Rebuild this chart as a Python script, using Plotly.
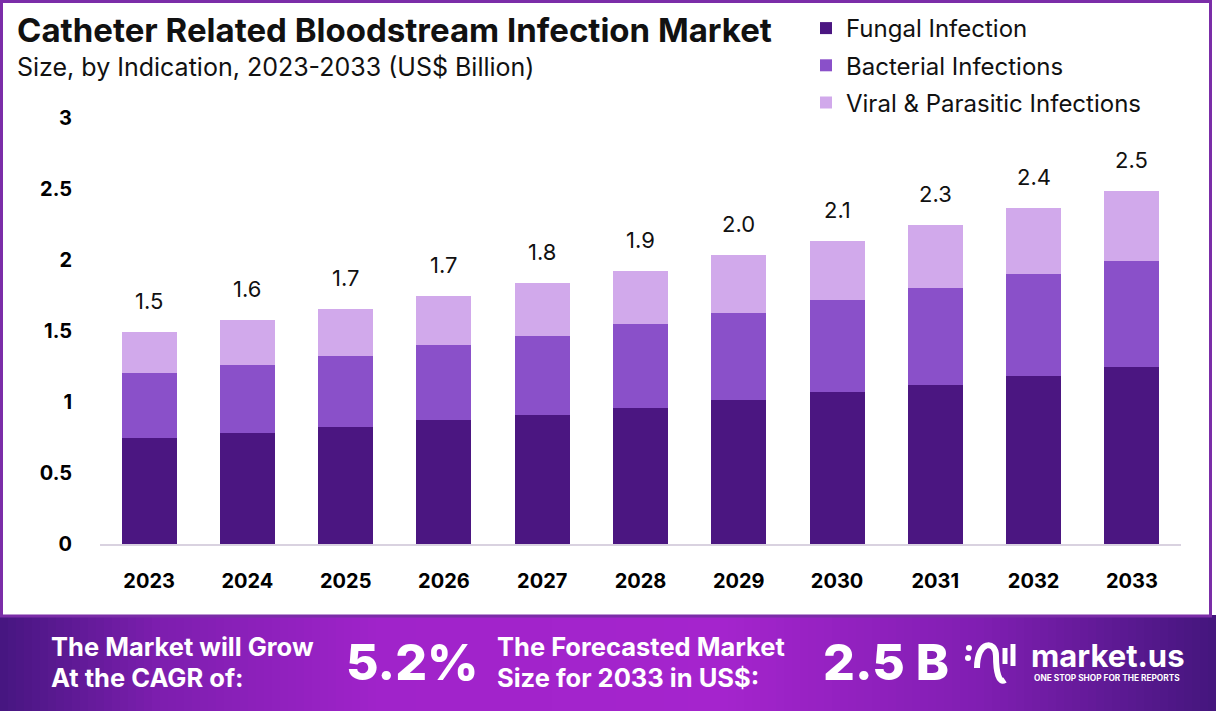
import plotly.graph_objects as go

years = ["2023", "2024", "2025", "2026", "2027", "2028", "2029", "2030", "2031", "2032", "2033"]
fungal = [0.743, 0.785, 0.827, 0.870, 0.912, 0.961, 1.011, 1.067, 1.123, 1.180, 1.243]
bacterial = [0.458, 0.479, 0.500, 0.528, 0.556, 0.585, 0.619, 0.648, 0.683, 0.718, 0.753]
viral = [0.295, 0.310, 0.331, 0.345, 0.367, 0.380, 0.402, 0.422, 0.444, 0.465, 0.493]
total_labels = ["1.5", "1.6", "1.7", "1.7", "1.8", "1.9", "2.0", "2.1", "2.3", "2.4", "2.5"]
y_ticks = [0, 0.5, 1, 1.5, 2, 2.5, 3]
y_tick_text = ["0", "0.5", "1", "1.5", "2", "2.5", "3"]

W, H = 1216, 711
L, R, T, B = 100, 35, 118, 167
PW, PH = W - L - R, H - T - B

def px_x(px):
    return (px - L) / PW

def px_y(py):
    return (H - B - py) / PH

FONT = "Inter"
C_F, C_B, C_V = "#4b1681", "#8a50c9", "#d1a9eb"

fig = go.Figure()
for name, vals, col in [("Fungal Infection", fungal, C_F),
                        ("Bacterial Infections", bacterial, C_B),
                        ("Viral & Parasitic Infections", viral, C_V)]:
    fig.add_trace(go.Bar(x=years, y=vals, name=name, marker=dict(color=col, line=dict(width=0)),
                         legendgroup=name, hoverinfo="skip"))

totals = [f + b + v for f, b, v in zip(fungal, bacterial, viral)]
annotations = []
for i, (tot, lab) in enumerate(zip(totals, total_labels)):
    annotations.append(dict(x=i, y=tot, xref="x", yref="y", text=lab, showarrow=False,
                            yanchor="bottom", yshift=16,
                            font=dict(family=FONT, size=22, color="#111111")))

def txt(px, py, text, size, anchor="left", color="#111111", weight=None):
    f = dict(family=FONT, size=size, color=color)
    if weight:
        f["weight"] = weight
    annotations.append(dict(x=px_x(px), y=px_y(py), xref="paper", yref="paper", xanchor=anchor,
                            yanchor="middle", text=text, showarrow=False, font=f))

# Title / subtitle
txt(15, 30, "<b>Catheter Related Bloodstream Infection Market</b>", 33)
txt(15, 67, "Size, by Indication, 2023-2033 (US$ Billion)", 25)

# Banner texts
white = "#ffffff"
txt(49, 646, "<b>The Market will Grow</b>", 25.5, color=white)
txt(49, 677, "<b>At the CAGR of:</b>", 25.5, color=white)
txt(344, 662, "5.2%", 50, color=white, weight=800)
txt(495, 646, "<b>The Forecasted Market</b>", 25.5, color=white)
txt(495, 677, "<b>Size for 2033 in US$:</b>", 25.5, color=white)
txt(821, 662, "2.5 B", 50, color=white, weight=800)
txt(1029, 655, "<b>market.us</b>", 31, color=white)
txt(1032, 678, "<b>ONE STOP SHOP FOR THE REPORTS</b>", 8.3, color=white)

shapes = []
# gradient banner
stops = [(0, (70, 22, 128)), (160, (125, 30, 175)), (380, (160, 35, 202)),
         (720, (165, 36, 205)), (980, (128, 30, 178)), (1216, (68, 22, 125))]

def grad(px):
    for (x0, c0), (x1, c1) in zip(stops[:-1], stops[1:]):
        if x0 <= px <= x1:
            t = (px - x0) / (x1 - x0)
            return tuple(int(round(a + (b - a) * t)) for a, b in zip(c0, c1))
    return stops[-1][1]

step = 8
for x0 in range(0, W, step):
    c = grad(x0 + step / 2)
    shapes.append(dict(type="rect", xref="paper", yref="paper", x0=px_x(x0), x1=px_x(x0 + step + 0.5),
                       y0=px_y(615), y1=px_y(H + 2), line=dict(width=0),
                       fillcolor="rgb(%d,%d,%d)" % c, layer="below"))

# frame
shapes.append(dict(type="rect", xref="paper", yref="paper", x0=px_x(1.5), x1=px_x(1210.5),
                   y0=px_y(616), y1=px_y(1.5), line=dict(width=3, color="#7b2da8"),
                   fillcolor="rgba(0,0,0,0)", layer="below"))

# logo icon (approximate)
def P(px, py):
    return "%.5f %.5f" % (px_x(px), px_y(py))

shapes.append(dict(type="circle", xref="paper", yref="paper", x0=px_x(965), x1=px_x(971),
                   y0=px_y(661), y1=px_y(655), fillcolor=white, line=dict(width=0)))
shapes.append(dict(type="circle", xref="paper", yref="paper", x0=px_x(966), x1=px_x(972),
                   y0=px_y(651), y1=px_y(645), fillcolor=white, line=dict(width=0)))
shapes.append(dict(type="path", xref="paper", yref="paper",
                   path="M %s C %s %s %s C %s %s %s" % (P(977, 668), P(977, 640), P(996, 640), P(996, 656),
                                                        P(996, 672), P(999, 684), P(1005, 680)),
                   line=dict(color=white, width=6), fillcolor="rgba(0,0,0,0)"))
shapes.append(dict(type="line", xref="paper", yref="paper", x0=px_x(1005), x1=px_x(1005),
                   y0=px_y(664), y1=px_y(648), line=dict(color=white, width=5)))
shapes.append(dict(type="line", xref="paper", yref="paper", x0=px_x(1013), x1=px_x(1013),
                   y0=px_y(666), y1=px_y(644), line=dict(color=white, width=5)))

fig.update_layout(
    width=W, height=H,
    margin=dict(l=L, r=R, t=T, b=B, autoexpand=False),
    paper_bgcolor="#ffffff", plot_bgcolor="#ffffff",
    barmode="stack", bargap=0.44,
    showlegend=True,
    legend=dict(x=px_x(806), y=px_y(6), xanchor="left", yanchor="top",
                traceorder="grouped", tracegroupgap=3,
                font=dict(family=FONT, size=24, color="#111111"),
                bgcolor="rgba(0,0,0,0)", itemclick=False),
    xaxis=dict(showgrid=False, showline=True, linecolor="#d9d2e0", linewidth=2,
               ticks="", ticklabelstandoff=18, range=[-0.5, 10.5],
               tickfont=dict(family=FONT, size=20, color="#000000")),
    yaxis=dict(showgrid=False, zeroline=False, showline=False, range=[0, 3],
               tickvals=y_ticks, ticktext=["<b>%s</b>" % t for t in y_tick_text],
               ticks="", ticklabelstandoff=27,
               tickfont=dict(family=FONT, size=20, color="#000000")),
    annotations=annotations, shapes=shapes,
    font=dict(family=FONT),
)
fig.update_xaxes(tickvals=years, ticktext=["<b>%s</b>" % y for y in years])

fig.write_html("out.html", config={"displayModeBar": False},
               post_script="document.body.style.margin='0';document.body.style.padding='0';document.body.style.overflow='hidden';")
